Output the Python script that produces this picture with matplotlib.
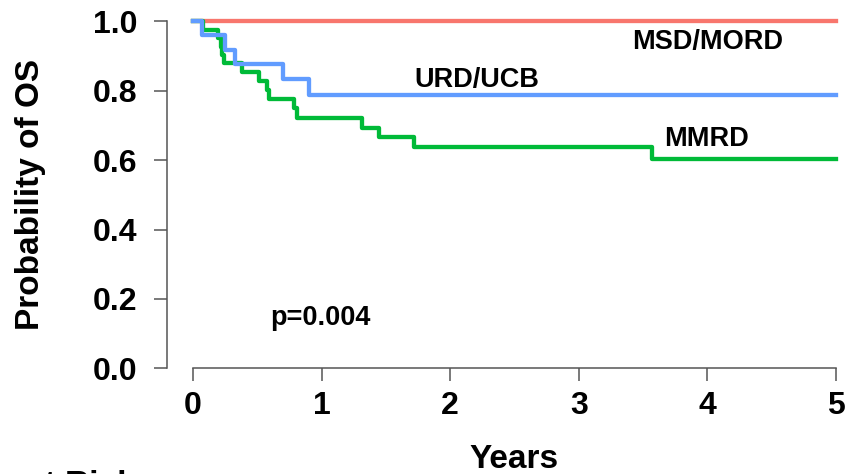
import matplotlib
matplotlib.use("Agg")
import matplotlib.pyplot as plt

plt.rcParams['font.family'] = ['Liberation Sans', 'DejaVu Sans']
plt.rcParams['font.weight'] = 'bold'

# survival curves (time in years, probability of OS)
msd_t = [0.0, 5.0]
msd_s = [1.0, 1.0]

urd_t = [0.0, 0.072, 0.245, 0.325, 0.70, 0.905, 5.0]
urd_s = [1.0, 0.960, 0.917, 0.877, 0.834, 0.787, 0.787]

mmrd_t = [0.0, 0.08, 0.197, 0.215, 0.228, 0.24, 0.378, 0.516, 0.578,
          0.594, 0.788, 0.806, 1.317, 1.444, 1.72, 3.567, 5.0]
mmrd_s = [1.0, 0.975, 0.952, 0.927, 0.903, 0.879, 0.855, 0.828, 0.802,
          0.775, 0.749, 0.720, 0.693, 0.666, 0.639, 0.604, 0.604]

x_ticks = [0, 1, 2, 3, 4, 5]
y_ticks = [0.0, 0.2, 0.4, 0.6, 0.8, 1.0]

RED = '#F8766D'
GREEN = '#00BA38'
BLUE = '#619CFF'
SPINE = '#555555'

fig = plt.figure(figsize=(8.46, 4.74), dpi=100)
ax = fig.add_axes([0.1978, 0.223, 0.798, 0.754])

ax.step(msd_t, msd_s, where='post', color=RED, lw=3.1, clip_on=False)
ax.step(mmrd_t, mmrd_s, where='post', color=GREEN, lw=3.1, clip_on=False)
ax.step(urd_t, urd_s, where='post', color=BLUE, lw=3.1, clip_on=False)

ax.set_xlim(-0.2, 5.05)
ax.set_ylim(0, 1.03)

for side in ('top', 'right'):
    ax.spines[side].set_visible(False)
ax.spines['left'].set_bounds(0, 1)
ax.spines['bottom'].set_bounds(0, 5)
for side in ('left', 'bottom'):
    ax.spines[side].set_color(SPINE)
    ax.spines[side].set_linewidth(1.1)

ax.set_xticks(x_ticks)
ax.set_xticklabels([str(v) for v in x_ticks])
ax.set_yticks(y_ticks)
ax.set_yticklabels([f'{v:.1f}' for v in y_ticks])
ax.tick_params(axis='both', length=9.4, width=1.1, color=SPINE,
               labelsize=23, pad=12)
ax.tick_params(axis='x', pad=7)
for lab in ax.get_xticklabels() + ax.get_yticklabels():
    lab.set_fontweight('bold')

ax.text(4.0, 0.919, 'MSD/MORD', ha='center', va='baseline',
        fontsize=19.5, fontweight='bold')
ax.text(2.21, 0.811, 'URD/UCB', ha='center', va='baseline',
        fontsize=19.5, fontweight='bold')
ax.text(3.99, 0.641, 'MMRD', ha='center', va='baseline',
        fontsize=19.5, fontweight='bold')
ax.text(0.99, 0.125, 'p=0.004', ha='center', va='baseline',
        fontsize=19.5, fontweight='bold')

fig.text(31 / 846, 1 - 194 / 474, 'Probability of OS', rotation=90,
         ha='center', va='center', fontsize=24, fontweight='bold')
fig.text(514 / 846, 1 - 468 / 474, 'Years', ha='center', va='baseline',
         fontsize=24, fontweight='bold')
fig.text(26 / 846, 1 - 494 / 474, 'at Risk', ha='left', va='baseline',
         fontsize=24, fontweight='bold')

fig.savefig('out.png', dpi=100)
